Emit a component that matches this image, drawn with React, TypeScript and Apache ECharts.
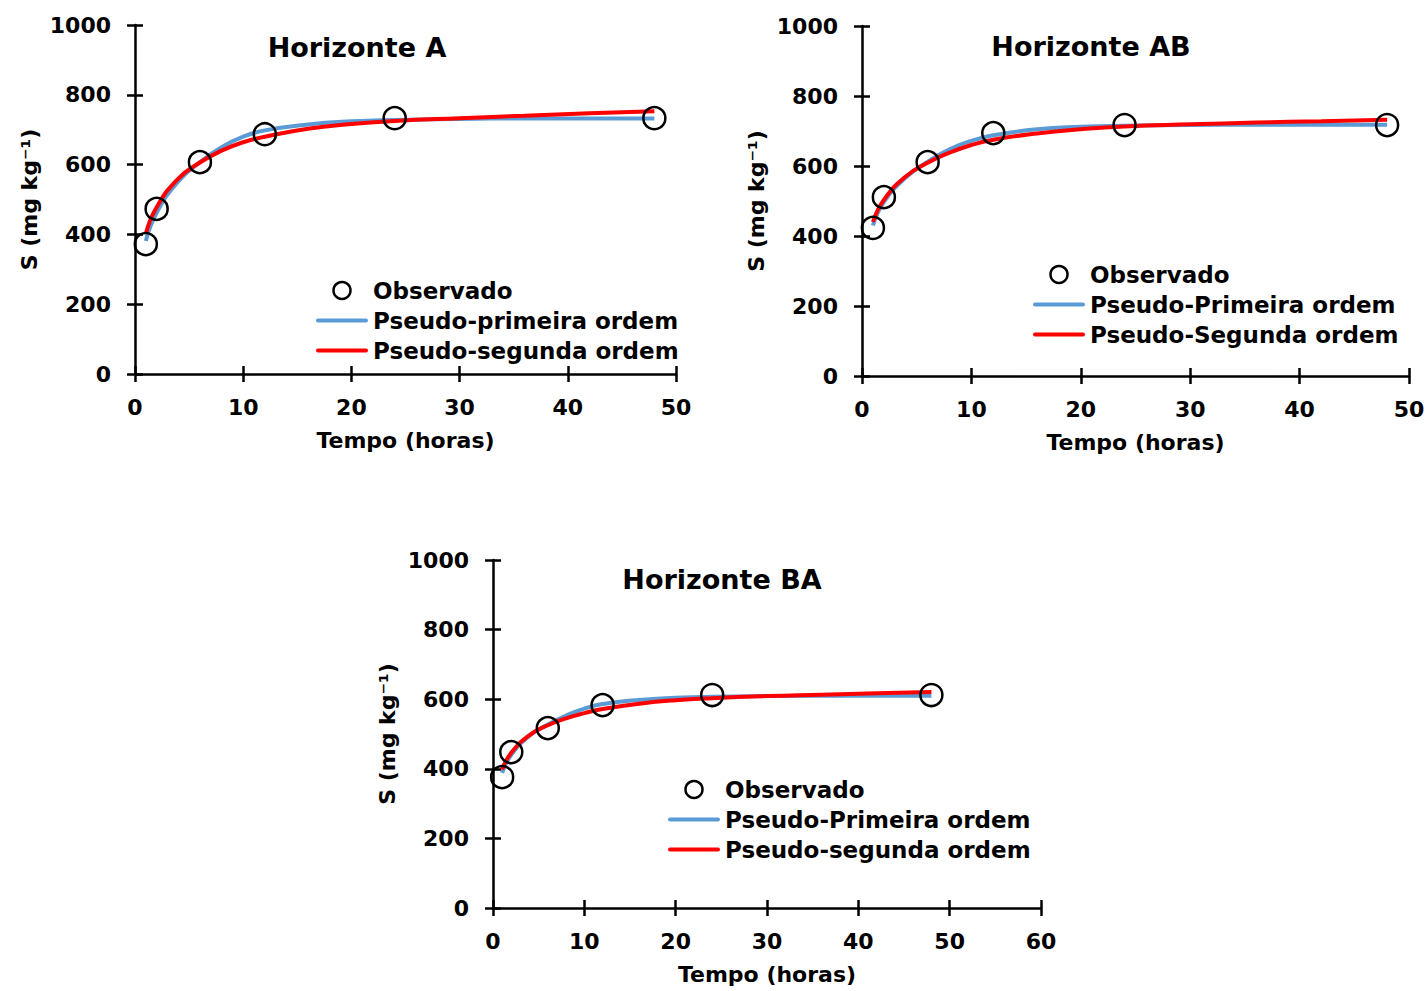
import React, { useEffect, useRef } from "react";
import * as echarts from "echarts";

const FONT = "'DejaVu Sans', Verdana, sans-serif";

// Observed points
const hours = [1, 2, 6, 12, 24, 48];
const obsA = [372, 473, 607, 687, 733, 733];
const obsAB = [423, 511, 611, 694, 717, 717];
const obsBA = [376, 448, 517, 583, 612, 612];

// Fitted curves
const fitTimes = [1, 2, 4, 6, 8, 10, 12, 16, 20, 24, 30, 36, 42, 48];
const pfoA = [381, 462, 552, 607, 650, 680, 698, 715, 724, 728, 731, 732, 732, 732];
const psoA = [402, 478, 560, 606, 640, 664, 680, 703, 716, 725, 733, 740, 747, 753];
const pfoAB = [430, 497, 567, 612, 648, 672, 688, 705, 712, 715, 717, 718, 718, 718];
const psoAB = [440, 503, 570, 609, 638, 660, 675, 693, 705, 713, 719, 724, 728, 732];
const pfoBA = [388, 440, 495, 527, 553, 573, 586, 598, 604, 607, 609, 610, 610, 610];
const psoBA = [398, 446, 497, 525, 545, 560, 572, 587, 597, 603, 609, 613, 617, 621];

const titles = ["Horizonte A", "Horizonte AB", "Horizonte BA"];
const xMax = [50, 50, 60];
const pfoNames = ["Pseudo-primeira ordem", "Pseudo-Primeira ordem", "Pseudo-Primeira ordem"];
const psoNames = ["Pseudo-segunda ordem", "Pseudo-Segunda ordem", "Pseudo-segunda ordem"];
const obsName = "Observado";
const xName = "Tempo (horas)";
const yName = "S (mg kg\u207B\u00B9)";

const BLUE = "#5B9BD5";
const RED = "#FF0000";

const grids = [
  { left: 135, top: 25, width: 541, height: 349 },
  { left: 862, top: 26, width: 547, height: 350 },
  { left: 493, top: 560, width: 548, height: 348 },
];
const titlePos = [
  [357, 47],
  [1091, 46],
  [722, 579],
];
const legendPos = [
  [316, 279],
  [1033, 263],
  [668, 778],
];

const LINE_ICON = "path://M2,0 H50 A2,2 0 0 1 50,4 H2 A2,2 0 0 1 2,0 Z";

export default function App() {
  const ref = useRef<HTMLDivElement>(null);
  useEffect(() => {
    if (!ref.current) return;
    const chart = echarts.init(ref.current, null, { renderer: "svg" });
    const obs = [obsA, obsAB, obsBA];
    const pfo = [pfoA, pfoAB, pfoBA];
    const pso = [psoA, psoAB, psoBA];
    const xAxis: any[] = [];
    const yAxis: any[] = [];
    const series: any[] = [];
    const legend: any[] = [];
    const graphic: any[] = [];
    const labelStyle = {
      fontSize: 22, fontWeight: "bold", color: "#000", fontFamily: FONT,
      formatter: (v: number) => String(v),
    };
    const axLine = { show: true, lineStyle: { color: "#000", width: 2.5 } };
    for (let i = 0; i < 3; i++) {
      xAxis.push({
        type: "value", gridIndex: i, position: "bottom", min: 0, max: xMax[i], interval: 10,
        axisLine: axLine,
        axisTick: { show: true, length: 8, lineStyle: { color: "#000", width: 2.5 } },
        axisLabel: { ...labelStyle, margin: 22 },
        splitLine: { show: false },
        name: xName, nameLocation: "middle", nameGap: 55,
        nameTextStyle: { fontSize: 22, fontWeight: "bold", color: "#000", fontFamily: FONT },
      });
      xAxis.push({
        type: "value", gridIndex: i, position: "bottom", min: 0, max: xMax[i], interval: 10,
        axisLine: { show: false },
        axisTick: { show: true, inside: true, length: 8, lineStyle: { color: "#000", width: 2.5 } },
        axisLabel: { show: false },
        splitLine: { show: false },
      });
      yAxis.push({
        type: "value", gridIndex: i, position: "left", min: 0, max: 1000, interval: 200,
        axisLine: axLine,
        axisTick: { show: true, length: 8, lineStyle: { color: "#000", width: 2.5 } },
        axisLabel: { ...labelStyle, margin: 24 },
        splitLine: { show: false },
        name: yName, nameLocation: "middle", nameGap: 95, nameRotate: 90,
        nameTextStyle: { fontSize: 22, fontWeight: "bold", color: "#000", fontFamily: FONT },
      });
      yAxis.push({
        type: "value", gridIndex: i, position: "left", min: 0, max: 1000, interval: 200,
        axisLine: { show: false },
        axisTick: { show: true, inside: true, length: 8, lineStyle: { color: "#000", width: 2.5 } },
        axisLabel: { show: false },
        splitLine: { show: false },
      });
      series.push({
        type: "line", name: pfoNames[i], xAxisIndex: 2 * i, yAxisIndex: 2 * i,
        data: fitTimes.map((t, k) => [t, pfo[i][k]]),
        smooth: 0.5, symbol: "none", showSymbol: false,
        lineStyle: { color: BLUE, width: 4 }, itemStyle: { color: BLUE }, z: 2,
      });
      series.push({
        type: "line", name: psoNames[i], xAxisIndex: 2 * i, yAxisIndex: 2 * i,
        data: fitTimes.map((t, k) => [t, pso[i][k]]),
        smooth: 0.5, symbol: "none", showSymbol: false,
        lineStyle: { color: RED, width: 4 }, itemStyle: { color: RED }, z: 2,
      });
      series.push({
        type: "scatter", name: obsName, xAxisIndex: 2 * i, yAxisIndex: 2 * i,
        data: hours.map((h, k) => [h, obs[i][k]]),
        symbol: "circle", symbolSize: 22,
        itemStyle: { color: "rgba(255,255,255,0)", borderColor: "#000", borderWidth: 2.5, opacity: 1 },
        z: 4,
      });
      legend.push({
        orient: "vertical", left: legendPos[i][0], top: legendPos[i][1],
        itemWidth: 52, itemHeight: 17, itemGap: 7, padding: 0, selectedMode: false,
        textStyle: { fontSize: 23, fontWeight: "bold", color: "#000", fontFamily: FONT },
        data: [
          { name: obsName, icon: "circle", itemStyle: { color: "#fff", borderColor: "#000", borderWidth: 2.5 } },
          { name: pfoNames[i], icon: LINE_ICON, itemStyle: { color: BLUE, borderWidth: 0 }, lineStyle: { width: 0 } },
          { name: psoNames[i], icon: LINE_ICON, itemStyle: { color: RED, borderWidth: 0 }, lineStyle: { width: 0 } },
        ],
      });
      graphic.push({
        type: "text", x: titlePos[i][0], y: titlePos[i][1],
        style: {
          text: titles[i], fontSize: 27, fontWeight: "bold", fontFamily: FONT, fill: "#000",
          align: "center", verticalAlign: "middle",
        },
      });
    }
    chart.setOption({
      animation: false,
      backgroundColor: "#fff",
      grid: grids.map((g) => ({ ...g, containLabel: false })),
      xAxis, yAxis, series, legend, graphic,
    });
    return () => chart.dispose();
  }, []);
  return (
    <div
      ref={ref}
      style={{ position: "fixed", left: 0, top: 0, width: 1428, height: 991, background: "#fff" }}
    />
  );
}
